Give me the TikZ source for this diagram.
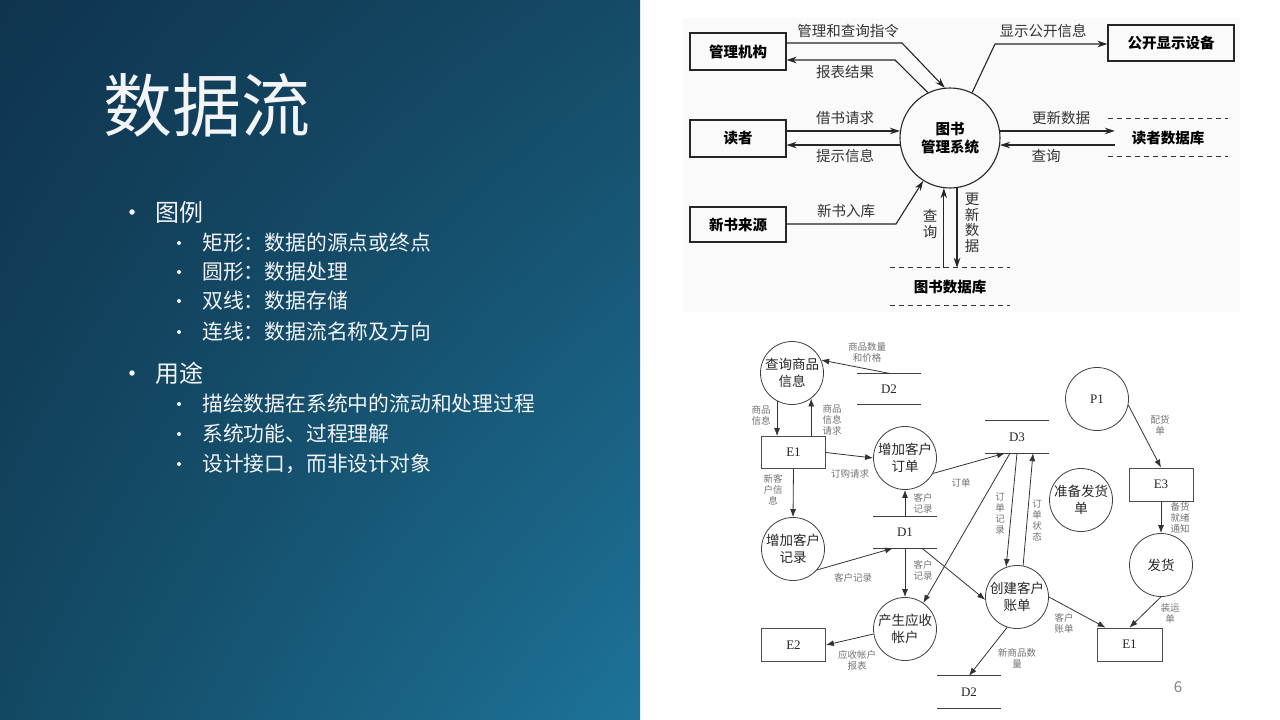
\documentclass[tikz,border=0pt]{standalone}
\usepackage{fontspec}
\setmainfont{Noto Sans CJK SC}
\newfontfamily\serifid{Liberation Serif}
\usetikzlibrary{arrows.meta,calc,shadings}

\definecolor{panelTL}{HTML}{0F344E}
\definecolor{panelTR}{HTML}{154B67}
\definecolor{panelBL}{HTML}{134862}
\definecolor{panelBR}{HTML}{1D7399}
\definecolor{slidetext}{HTML}{F2F4F6}

\tikzset{
  % upper diagram: library management system
  tbox/.style={draw=black!85, line width=1.1pt, minimum width=96pt, minimum height=37pt,
    inner sep=0pt, font=\fontsize{14.5}{17}\selectfont\bfseries},
  tproc/.style={circle, draw=black!85, line width=1.1pt, minimum size=100pt, inner sep=0pt,
    align=center, font=\fontsize{14.5}{18}\selectfont\bfseries},
  tstore/.style={minimum width=120pt, minimum height=37pt, inner sep=0pt,
    font=\fontsize{14.5}{17}\selectfont\bfseries},
  tdash/.style={draw=black!80, line width=1pt, dash pattern=on 5pt off 4pt},
  tlbl/.style={inner sep=0pt, text=black!80, align=center, font=\fontsize{14.5}{17}\selectfont},
  tarr/.style={draw=black!85, line width=1.1pt, -{Stealth[length=10pt,width=6.5pt]}},
  % lower diagram: order processing
  bproc/.style={circle, draw=black!75, line width=0.8pt, minimum size=63pt, inner sep=0pt,
    align=center, text=black!85, font=\fontsize{13.5}{17}\selectfont},
  bbox/.style={draw=black!70, line width=0.8pt, minimum width=64pt, minimum height=32pt,
    inner sep=0pt, text=black!85, font=\fontsize{13}{15}\serifid},
  bstore/.style={minimum width=64pt, minimum height=31pt, inner sep=0pt, text=black!85,
    font=\fontsize{13}{15}\serifid},
  bline/.style={draw=black!75, line width=0.8pt},
  blbl/.style={inner sep=0pt, text=black!55, align=center, font=\fontsize{9.5}{11}\selectfont},
  barr/.style={draw=black!80, line width=0.8pt, -{Latex[length=8pt,width=6pt]}},
  % slide text
  mainbul/.style={circle, fill=slidetext, inner sep=0pt, minimum size=5.5pt},
  subbul/.style={circle, fill=slidetext, inner sep=0pt, minimum size=4pt},
  maintxt/.style={anchor=west, inner sep=0pt, text=slidetext, font=\fontsize{24}{26}\selectfont},
  subtxt/.style={anchor=west, inner sep=0pt, text=slidetext, font=\fontsize{20.8}{22}\selectfont},
}

\begin{document}
\begin{tikzpicture}[x=1pt, y=-1pt]
\useasboundingbox (0,0) rectangle (1280,720);
\fill[white] (0,0) rectangle (1280,720);

% left panel with its gradient
\shade[upper left=panelTL, upper right=panelTR, lower left=panelBL, lower right=panelBR]
  (0,0) rectangle (640,720);

% title and bullets
\node[anchor=west, inner sep=0pt, text=slidetext, font=\fontsize{69}{72}\selectfont]
  (title) at (103,105) {数据流};

\node[mainbul] (b1) at (132,212) {};
\node[maintxt] (t1) at (155,212) {图例};
\node[subbul] (b11) at (179,243) {};
\node[subtxt] (t11) at (202,243) {矩形：数据的源点或终点};
\node[subbul] (b12) at (179,272) {};
\node[subtxt] (t12) at (202,272) {圆形：数据处理};
\node[subbul] (b13) at (179,301) {};
\node[subtxt] (t13) at (202,301) {双线：数据存储};
\node[subbul] (b14) at (179,332) {};
\node[subtxt] (t14) at (202,332) {连线：数据流名称及方向};
\node[mainbul] (b2) at (132,373) {};
\node[maintxt] (t2) at (155,373) {用途};
\node[subbul] (b21) at (179,404) {};
\node[subtxt] (t21) at (202,404) {描绘数据在系统中的流动和处理过程};
\node[subbul] (b22) at (179,434) {};
\node[subtxt] (t22) at (202,434) {系统功能、过程理解};
\node[subbul] (b23) at (179,464) {};
\node[subtxt] (t23) at (202,464) {设计接口，而非设计对象};

% ---------- upper diagram ----------
\fill[black!2] (683,18) rectangle (1240,312);

\node[tproc] (C) at (950,138) {图书\\管理系统};
\node[tbox] (guanli) at (738,51.5) {管理机构};
\node[tbox] (reader) at (738,138.5) {读者};
\node[tbox, minimum height=35pt] (xinshu) at (738,224.5) {新书来源};
\node[tbox, minimum width=126pt, minimum height=36pt] (pub) at (1171,43) {公开显示设备};
\node[tstore] (rdb) at (1168,137.5) {读者数据库};
\node[tstore] (bdb) at (950,286.5) {图书数据库};
\draw[tdash] (rdb.north west) -- (rdb.north east);
\draw[tdash] (rdb.south west) -- (rdb.south east);
\draw[tdash] (bdb.north west) -- (bdb.north east);
\draw[tdash] (bdb.south west) -- (bdb.south east);

\coordinate (cq1) at (902,43);
\coordinate (cr1) at (895,60);
\coordinate (cs1) at (995,44);
\coordinate (cn1) at (896,224);
\coordinate (rdbin) at ($(rdb.west)+(7,0)$);

\draw[tarr] (guanli.east |- cq1) -- (cq1) -- (C.96);
\draw[tarr] (C.116) -- (cr1) -- (guanli.east |- cr1);
\draw[tarr] (reader.east |- C.172) -- (C.172);
\draw[tarr] (C.188) -- (reader.east |- C.188);
\draw[tarr] (xinshu.east |- cn1) -- (cn1) -- (C.238);
\draw[tarr] (C.64) -- (cs1) -- (pub.west |- cs1);
\draw[tarr] (C.8) -- (rdbin |- C.8);
\draw[tarr] (rdbin |- C.352) -- (C.352);
\draw[tarr] (C.263 |- bdb.north) -- (C.263);
\draw[tarr] (C.278) -- (C.278 |- bdb.north);

\node[tlbl] (l1) at (848,31) {管理和查询指令};
\node[tlbl] (l2) at (845,72) {报表结果};
\node[tlbl] (l3) at (845,118) {借书请求};
\node[tlbl] (l4) at (845,156) {提示信息};
\node[tlbl] (l5) at (846,211) {新书入库};
\node[tlbl] (l6) at (1043,31) {显示公开信息};
\node[tlbl] (l7) at (1061,118) {更新数据};
\node[tlbl] (l8) at (1046,156) {查询};
\node[tlbl, font=\fontsize{14.5}{16.5}\selectfont] (l9) at (930,224) {查\\询};
\node[tlbl, font=\fontsize{14.5}{15.5}\selectfont] (l10) at (972,223) {更\\新\\数\\据};

% ---------- lower diagram ----------
\node[bproc] (q) at (792,373) {查询商品\\信息};
\node[bproc] (ord) at (905,458) {增加客户\\订单};
\node[bproc] (rec) at (793,549) {增加客户\\记录};
\node[bproc] (ar) at (905,629) {产生应收\\帐户};
\node[bproc] (bill) at (1017,597) {创建客户\\账单};
\node[bproc, font=\fontsize{13}{15}\serifid] (P1) at (1097,399) {P1};
\node[bproc] (prep) at (1081,500) {准备发货\\单};
\node[bproc] (ship) at (1161,565) {发货};

\node[bbox] (E1a) at (793.5,452.5) {E1};
\node[bbox, minimum height=33pt] (E2) at (793.5,645) {E2};
\node[bbox, minimum width=65pt, minimum height=33pt] (E1b) at (1129.5,644.5) {E1};
\node[bbox, minimum height=33pt] (E3) at (1161,484.5) {E3};

\node[bstore] (D2a) at (889,389) {D2};
\node[bstore, minimum height=32pt] (D3) at (1017,437) {D3};
\node[bstore] (D1) at (905,532.5) {D1};
\node[bstore, minimum height=32pt] (D2b) at (969,692) {D2};
\foreach \s in {D2a,D3,D1,D2b}{
  \draw[bline] (\s.north west) -- (\s.north east);
  \draw[bline] (\s.south west) -- (\s.south east);
}

\draw[barr] (D2a.north) -- (q.24);
\draw[barr] (q.242) -- (q.242 |- E1a.north);
\draw[barr] (E1a.north -| q.307) -- (q.307);
\draw[barr] (E1a.east) -- (ord.west);
\draw[barr] (ord.331) -- ($(D3.south)+(-12,0)$);
\draw[barr] (D1.north) -- (ord.south);
\draw[barr] (E1a.south) -- (rec.north);
\draw[barr] (rec.319) -- ($(D1.south)+(-12,0)$);
\draw[barr] (D1.south) -- (ar.north);
\draw[barr] ($(D1.south)+(17,0)$) -- (bill.185);
\draw[barr] ($(D3.south)+(-7,0)$) -- (ar.55);
\draw[barr] (D3.south) -- (bill.110);
\draw[barr] (bill.79) -- ($(D3.south)+(16,0)$);
\draw[barr] (bill.252) -- (D2b.north);
\draw[barr] (ar.189) -- (E2.east);
\draw[barr] (bill.east) -- ($(E1b.north west)+(9,0)$);
\draw[barr] (P1.349) -- (E3.north);
\draw[barr] (E3.south) -- (ship.north);
\draw[barr] (ship.south) -- (E1b.north);

\node[blbl] (m1) at (867,352) {商品数量\\和价格};
\node[blbl] (m2) at (761,415) {商品\\信息};
\node[blbl] (m3) at (832,420) {商品\\信息\\请求};
\node[blbl] (m4) at (850,474) {订购请求};
\node[blbl] (m5) at (961,483) {订单};
\node[blbl] (m6) at (923,503) {客户\\记录};
\node[blbl] (m7) at (773,490) {新客\\户信\\息};
\node[blbl] (m8) at (853,578) {客户记录};
\node[blbl] (m9) at (923,570) {客户\\记录};
\node[blbl] (m10) at (1000,513) {订\\单\\记\\录};
\node[blbl] (m11) at (1037,520) {订\\单\\状\\态};
\node[blbl] (m12) at (1017,658) {新商品数\\量};
\node[blbl] (m13) at (857,660) {应收帐户\\报表};
\node[blbl] (m14) at (1064,623) {客户\\账单};
\node[blbl] (m15) at (1160,425) {配货\\单};
\node[blbl] (m16) at (1180,518) {备货\\就绪\\通知};
\node[blbl] (m17) at (1170,613) {装运\\单};

% slide number
\node[inner sep=0pt, text=black!50, font=\fontsize{15}{17}\selectfont] (pg) at (1178,687) {6};
\end{tikzpicture}
\end{document}
